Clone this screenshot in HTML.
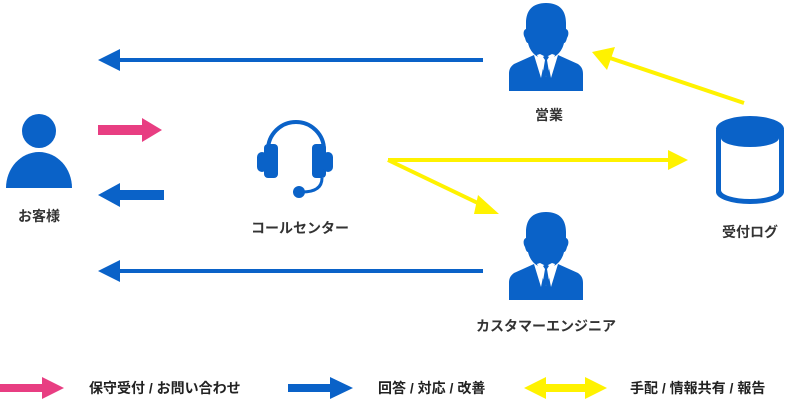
<!DOCTYPE html>
<html><head><meta charset="utf-8"><style>
html,body{margin:0;padding:0;background:#fff;}
svg{display:block}
text{font-family:"Liberation Sans","Noto Sans CJK JP",sans-serif;font-weight:bold;font-size:14px;fill:#333;}
</style></head><body>
<svg width="793" height="401" viewBox="0 0 793 401" xmlns="http://www.w3.org/2000/svg">
<defs>
<g id="biz">
  <path d="M0,-42 c-14,0 -20,8 -20,20 l0,6 c-3,1 -3,6 -1,9 c1,4 2,5 3,5 c2,9 9,16 18,16 c9,0 16,-7 18,-16 c1,0 2,-1 3,-5 c2,-3 2,-8 -1,-9 l0,-6 c0,-12 -6,-20 -20,-20z" fill="#0a62c8"/>
  <path d="M-12,10 l-20,9 c-4,3 -5,6 -5,10 l0,17 l74,0 l0,-17 c0,-4 -1,-7 -5,-10 l-20,-9 l-7,23 l-3,-15 l3,-5 l-10,0 l3,5 l-3,15z" fill="#0a62c8"/>
  <path d="M-9,10 l9,22 l9,-22 l-3,-1 l-6,3 l-6,-3z" fill="#fff"/>
  <path d="M-3,12 l3,-2 l3,2 l-2,3 l2,12 l-3,5 l-3,-5 l2,-12z" fill="#0a62c8"/>
</g>
</defs>
<circle cx="39" cy="131" r="17" fill="#0a62c8"/>
<path d="M6,188 a33,36 0 0 1 66,0z" fill="#0a62c8"/>
<text x="39" y="221" text-anchor="middle">お客様</text>
<rect x="98" y="125" width="46" height="10" fill="#e83e82"/>
<polygon points="142,118 162,130 142,142" fill="#e83e82"/>
<rect x="118" y="190" width="46" height="10" fill="#0a62c8"/>
<polygon points="120,183 98,195 120,207" fill="#0a62c8"/>
<path d="M268,150 a28,28 0 0 1 56,0" fill="none" stroke="#0a62c8" stroke-width="4"/>
<rect x="264" y="144" width="14" height="34" rx="4" fill="#0a62c8"/>
<rect x="257" y="152" width="10" height="20" rx="5" fill="#0a62c8"/>
<rect x="312" y="144" width="14" height="34" rx="4" fill="#0a62c8"/>
<rect x="323" y="152" width="10" height="20" rx="5" fill="#0a62c8"/>
<path d="M322,178 q0,14 -20,14" fill="none" stroke="#0a62c8" stroke-width="3"/>
<circle cx="299" cy="192" r="6" fill="#0a62c8"/>
<text x="300" y="233" text-anchor="middle">コールセンター</text>
<rect x="116" y="58" width="367" height="4" fill="#0a62c8"/>
<polygon points="120,49 98,60 120,71" fill="#0a62c8"/>
<rect x="116" y="269" width="367" height="4" fill="#0a62c8"/>
<polygon points="120,260 98,271 120,282" fill="#0a62c8"/>
<use href="#biz" x="546" y="45"/>
<text x="549" y="120" text-anchor="middle">営業</text>
<use href="#biz" x="546" y="254"/>
<text x="546" y="331" text-anchor="middle">カスタマーエンジニア</text>
<line x1="388" y1="160" x2="670" y2="160" stroke="#fff200" stroke-width="4"/>
<polygon points="668,150 688,160 668,170" fill="#fff200"/>
<line x1="388" y1="160" x2="484" y2="206" stroke="#fff200" stroke-width="4"/>
<polygon points="478,195 499,214 474,214" fill="#fff200"/>
<line x1="744" y1="103" x2="610" y2="58" stroke="#fff200" stroke-width="4"/>
<polygon points="592,52 615,47 607,70" fill="#fff200"/>
<path d="M716,130 l0,62 a34,12 0 0 0 68,0 l0,-62z" fill="#0a62c8"/>
<path d="M721,138 l0,52 a29,9 0 0 0 58,0 l0,-52 a29,9 0 0 1 -58,0z" fill="#fff"/>
<ellipse cx="750" cy="129" rx="34" ry="13" fill="#0a62c8"/>
<text x="750" y="237" text-anchor="middle">受付ログ</text>
<rect x="0" y="384" width="44" height="8" fill="#e83e82"/>
<polygon points="42,377 64,388 42,399" fill="#e83e82"/>
<text x="89" y="393" style="fill:#222">保守受付 / お問い合わせ</text>
<rect x="288" y="384" width="44" height="8" fill="#0a62c8"/>
<polygon points="330,377 353,388 330,399" fill="#0a62c8"/>
<text x="378" y="393" style="fill:#222">回答 / 対応 / 改善</text>
<rect x="540" y="384" width="55" height="8" fill="#fff200"/>
<polygon points="546,377 524,388 546,399" fill="#fff200"/>
<polygon points="585,377 607,388 585,399" fill="#fff200"/>
<text x="630" y="393" style="fill:#222">手配 / 情報共有 / 報告</text>
</svg>
</body></html>
